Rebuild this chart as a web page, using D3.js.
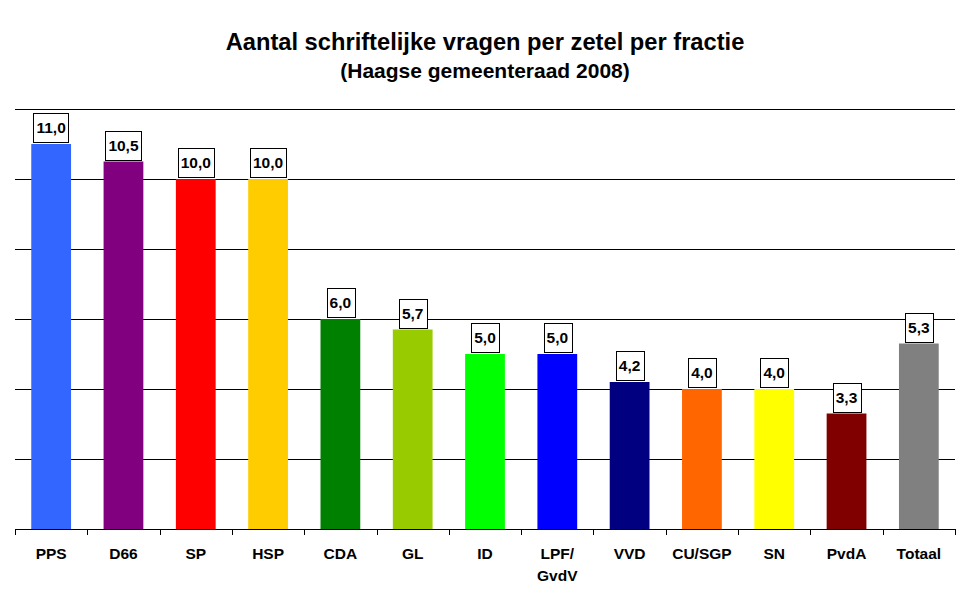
<!DOCTYPE html>
<html>
<head>
<meta charset="utf-8">
<script src="https://cdn.jsdelivr.net/npm/d3@7"></script>
<style>
  html, body { margin: 0; padding: 0; background: #fff; }
  svg { display: block; font-family: Arial, "Liberation Sans", sans-serif; }
</style>
</head>
<body>
<svg id="chart" width="970" height="604"></svg>
<script>
const categories = ["PPS", "D66", "SP", "HSP", "CDA", "GL", "ID", "LPF/\nGvdV", "VVD", "CU/SGP", "SN", "PvdA", "Totaal"];
const values = [11.0, 10.5, 10.0, 10.0, 6.0, 5.7, 5.0, 5.0, 4.2, 4.0, 4.0, 3.3, 5.3];
const colors = ["#3366FF", "#800080", "#FF0000", "#FFCC00", "#008000", "#99CC00", "#00FF00", "#0000FF", "#000080", "#FF6600", "#FFFF00", "#800000", "#808080"];
const yTicks = [0, 2, 4, 6, 8, 10, 12];
const titleText = "Aantal schriftelijke vragen per zetel per fractie";
const subtitleText = "(Haagse gemeenteraad 2008)";

(function () {
const svg = d3.select("#chart");
const pLeft = 15, pRight = 955, pTop = 109, pBottom = 529;

const x = d3.scaleBand().domain(categories).range([pLeft, pRight]).paddingInner(0.45).paddingOuter(0.225);
const y = d3.scaleLinear().domain([0, 12]).range([pBottom, pTop]);

// title
svg.append("text").attr("x", 485).attr("y", 50).attr("text-anchor", "middle")
  .attr("font-size", 23.7).attr("font-weight", "bold").text(titleText);
svg.append("text").attr("x", 485).attr("y", 78).attr("text-anchor", "middle")
  .attr("font-size", 21).attr("font-weight", "bold").text(subtitleText);

// gridlines
svg.append("g").selectAll("line").data(yTicks.filter(d => d > 0)).join("line")
  .attr("x1", pLeft).attr("x2", pRight)
  .attr("y1", d => Math.round(y(d)) + 0.5).attr("y2", d => Math.round(y(d)) + 0.5)
  .attr("stroke", "#000").attr("stroke-width", 1);

// bars
svg.append("g").selectAll("rect").data(values).join("rect")
  .attr("x", (d, i) => x(categories[i]))
  .attr("width", x.bandwidth())
  .attr("y", d => y(d))
  .attr("height", d => y(0) - y(d))
  .attr("fill", (d, i) => colors[i]);

// x axis
const step = x.step();
const axisG = svg.append("g");
axisG.append("line").attr("x1", pLeft).attr("x2", pRight + 0.5).attr("y1", pBottom + 0.5).attr("y2", pBottom + 0.5)
  .attr("stroke", "#000");
const bounds = d3.range(categories.length + 1).map(i => pLeft + i * step);
axisG.selectAll("line.tk").data(bounds).join("line").attr("class", "tk")
  .attr("x1", d => Math.round(d) + 0.5).attr("x2", d => Math.round(d) + 0.5)
  .attr("y1", pBottom).attr("y2", pBottom + 6).attr("stroke", "#000");

const lbl = axisG.selectAll("text.cat").data(categories).join("text").attr("class", "cat")
  .attr("x", d => x(d) + x.bandwidth() / 2)
  .attr("y", 559)
  .attr("text-anchor", "middle").attr("font-size", 15.5).attr("font-weight", "bold");
lbl.each(function(d) {
  const parts = d.split("\n");
  d3.select(this).selectAll("tspan").data(parts).join("tspan")
    .attr("x", x(d) + x.bandwidth() / 2)
    .attr("dy", (p, j) => j === 0 ? 0 : 22)
    .text(p => p);
});

// value labels
const fmt = v => v.toFixed(1).replace(".", ",");
const lg = svg.append("g");
values.forEach((v, i) => {
  const cx = x(categories[i]) + x.bandwidth() / 2;
  const g = lg.append("g");
  const t = g.append("text").attr("x", cx).attr("text-anchor", "middle")
    .attr("font-size", 15.5).attr("font-weight", "bold").text(fmt(v));
  const w = t.node().getComputedTextLength() + 6;
  const h = 29;
  const by = Math.round(y(v)) - 2 - h;
  g.insert("rect", "text").attr("x", Math.round(cx - w / 2) + 0.5).attr("y", by + 0.5)
    .attr("width", Math.round(w)).attr("height", h)
    .attr("fill", "#fff").attr("stroke", "#000");
  t.attr("y", by + h / 2 + 5.5);
});
})();
</script>
</body>
</html>
